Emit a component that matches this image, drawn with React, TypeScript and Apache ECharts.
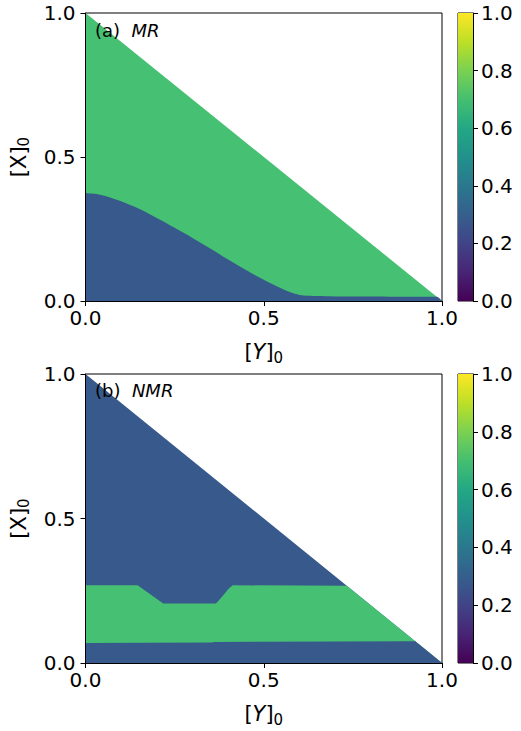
import React, { useEffect, useRef } from "react";
import * as echarts from "echarts";

// Panel (a) MR: boundary between low (blue) and high (green) region
const mrY0 = [0, 0.025, 0.05, 0.075, 0.1, 0.15, 0.2, 0.25, 0.3, 0.35, 0.4, 0.45, 0.5, 0.55, 0.575, 0.6, 0.625, 0.65, 0.7, 0.8, 0.9, 0.985, 1.0];
const mrX0 = [0.374, 0.372, 0.366, 0.357, 0.346, 0.32, 0.288, 0.254, 0.219, 0.182, 0.144, 0.108, 0.074, 0.043, 0.03, 0.021, 0.018, 0.017, 0.016, 0.016, 0.015, 0.015, 0.0];

// Triangle (domain [X]0 + [Y]0 <= 1)
const triY0 = [0, 1];
const triX0 = [1, 0];

// Panel (b) NMR: upper edge of green band
const nmrUpperY0 = [0, 0.146, 0.218, 0.366, 0.378, 0.39, 0.402, 0.413, 0.733, 0.925, 1.0];
const nmrUpperX0 = [0.269, 0.269, 0.206, 0.206, 0.222, 0.24, 0.258, 0.269, 0.267, 0.075, 0.0];
// Panel (b) NMR: lower edge of green band (top of bottom blue band)
const nmrLowerY0 = [0, 0.16, 0.355, 0.36, 0.72, 0.925, 1.0];
const nmrLowerX0 = [0.069, 0.07, 0.071, 0.073, 0.074, 0.075, 0.0];

const cbarValue = [1];

const viridisStops = [
  "#440154", "#482475", "#414487", "#355f8d", "#2a788e", "#21918c",
  "#22a884", "#44bf70", "#7ad151", "#bddf26", "#fde725",
];

const GREEN = "#46c072";
const BLUE = "#38598c";
const FONT = "DejaVu Sans";

const zip = (a: number[], b: number[]) => a.map((v, i) => [v, b[i]]);

export default function App() {
  const ref = useRef<HTMLDivElement>(null);
  useEffect(() => {
    if (!ref.current) return;
    const chart = echarts.init(ref.current, null, { renderer: "svg" });

    const grids = [
      { left: 83, top: 13, width: 359, height: 288, show: true, borderColor: "#000", borderWidth: 1, backgroundColor: "transparent" },
      { left: 83, top: 374, width: 359, height: 289, show: true, borderColor: "#000", borderWidth: 1, backgroundColor: "transparent" },
      { left: 458, top: 13, width: 15, height: 288, show: true, borderColor: "#000", borderWidth: 1 },
      { left: 458, top: 374, width: 15, height: 289, show: true, borderColor: "#000", borderWidth: 1 },
    ];

    const tickFmt = (v: number) => v.toFixed(1);
    const mainX = (gi: number) => ({
      type: "value",
      gridIndex: gi,
      min: 0,
      max: 1,
      interval: 0.5,
      z: 5,
      axisLine: { show: true, onZero: false, lineStyle: { color: "#000", width: 1 } },
      axisTick: { show: true, length: 5, lineStyle: { color: "#000" } },
      axisLabel: { fontSize: 20, color: "#000", fontFamily: FONT, margin: 7, formatter: tickFmt },
      splitLine: { show: false },
      name: "{b|[}{i|Y}{b|]}{s|0}",
      nameLocation: "middle",
      nameGap: 38,
      nameTextStyle: {
        rich: {
          b: { fontSize: 21, fontFamily: FONT, color: "#000" },
          i: { fontSize: 21, fontFamily: FONT, color: "#000", fontStyle: "italic" },
          s: { fontSize: 15, fontFamily: FONT, color: "#000", padding: [11, 0, 0, 0] },
        },
      },
    });
    const mainY = (gi: number) => ({
      type: "value",
      gridIndex: gi,
      min: 0,
      max: 1,
      interval: 0.5,
      z: 5,
      axisLine: { show: true, onZero: false, lineStyle: { color: "#000", width: 1 } },
      axisTick: { show: true, length: 5, lineStyle: { color: "#000" } },
      axisLabel: { fontSize: 20, color: "#000", fontFamily: FONT, margin: 10, formatter: tickFmt },
      splitLine: { show: false },
      name: "{b|[X]}{s|0}",
      nameLocation: "middle",
      nameGap: 54,
      nameTextStyle: {
        rich: {
          b: { fontSize: 21, fontFamily: FONT, color: "#000" },
          s: { fontSize: 15, fontFamily: FONT, color: "#000", padding: [11, 0, 0, 0] },
        },
      },
    });
    const cbX = (gi: number) => ({
      type: "category",
      gridIndex: gi,
      data: ["c"],
      show: false,
    });
    const cbY = (gi: number) => ({
      type: "value",
      gridIndex: gi,
      min: 0,
      max: 1,
      interval: 0.2,
      position: "right",
      z: 5,
      axisLine: { show: true, lineStyle: { color: "#000" } },
      axisTick: { show: true, length: 5, lineStyle: { color: "#000" } },
      axisLabel: { fontSize: 20, color: "#000", fontFamily: FONT, margin: 8, formatter: tickFmt },
      splitLine: { show: false },
    });

    const area = (xi: number, data: number[][], color: string, z: number, smooth: number | boolean = false) => ({
      type: "line",
      xAxisIndex: xi,
      yAxisIndex: xi,
      data,
      symbol: "none",
      smooth,
      lineStyle: { width: 0, color },
      areaStyle: { color, opacity: 1, origin: "start" },
      z,
      silent: true,
    });

    const gradient = new echarts.graphic.LinearGradient(
      0, 0, 0, 1,
      viridisStops.map((c, i) => ({ offset: 1 - i / (viridisStops.length - 1), color: c })).reverse()
    );

    const cbSeries = (xi: number) => ({
      type: "bar",
      xAxisIndex: xi,
      yAxisIndex: xi,
      data: cbarValue,
      barWidth: "100%",
      itemStyle: { color: gradient },
      silent: true,
      z: 1,
    });

    const labelText = (x: number, y: number, a: string, b: string) => ({
      type: "text",
      x,
      y,
      z: 10,
      style: {
        text: `{p|${a}}{q|${b}}`,
        verticalAlign: "middle",
        rich: {
          p: { fontSize: 18, fontFamily: FONT, fill: "#000", color: "#000" },
          q: { fontSize: 18, fontFamily: FONT, fill: "#000", color: "#000", fontStyle: "italic" },
        },
      },
    });

    chart.setOption({
      animation: false,
      backgroundColor: "#fff",
      textStyle: { fontFamily: FONT },
      grid: grids,
      xAxis: [mainX(0), mainX(1), cbX(2), cbX(3)],
      yAxis: [mainY(0), mainY(1), cbY(2), cbY(3)],
      series: [
        area(0, zip(triY0, triX0), GREEN, 1),
        area(0, zip(mrY0, mrX0), BLUE, 2, 0.3),
        area(1, zip(triY0, triX0), BLUE, 1),
        area(1, zip(nmrUpperY0, nmrUpperX0), GREEN, 2),
        area(1, zip(nmrLowerY0, nmrLowerX0), BLUE, 3),
        cbSeries(2),
        cbSeries(3),
      ],
      graphic: [
        labelText(95, 30, "(a)  ", "MR"),
        labelText(95, 390, "(b)  ", "NMR"),
      ],
    });
    return () => chart.dispose();
  }, []);
  return (
    <div
      ref={ref}
      style={{ position: "fixed", left: 0, top: 0, width: 521, height: 731 }}
    />
  );
}
